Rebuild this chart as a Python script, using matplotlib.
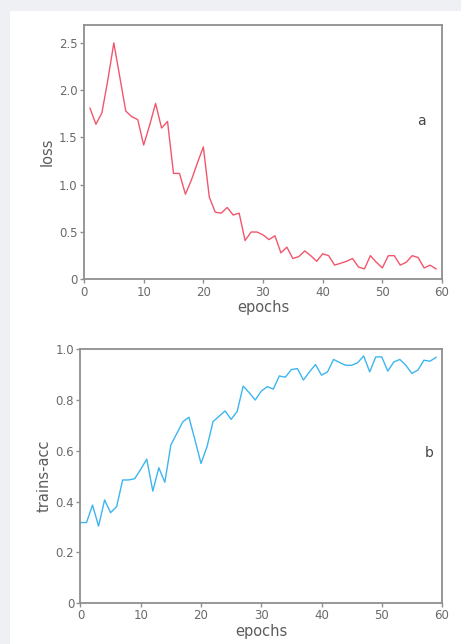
import matplotlib

matplotlib.use("Agg")
import matplotlib.pyplot as plt
from matplotlib.patches import Rectangle

plt.rcParams["font.family"] = ["DejaVu Sans"]

# training curves
loss_epochs = list(range(1, 60))
loss = [
    1.81, 1.64, 1.76, 2.11, 2.50, 2.14, 1.78, 1.72, 1.69, 1.42,
    1.63, 1.86, 1.60, 1.67, 1.12, 1.12, 0.90, 1.05, 1.23, 1.40,
    0.87, 0.71, 0.70, 0.76, 0.68, 0.70, 0.41, 0.50, 0.50, 0.47,
    0.42, 0.46, 0.28, 0.34, 0.22, 0.24, 0.30, 0.25, 0.19, 0.27,
    0.25, 0.15, 0.17, 0.19, 0.22, 0.13, 0.11, 0.25, 0.18, 0.12,
    0.25, 0.25, 0.15, 0.18, 0.25, 0.23, 0.12, 0.15, 0.11,
]

acc_epochs = list(range(0, 60))
acc = [
    0.317, 0.317, 0.386, 0.303, 0.406, 0.356, 0.380, 0.485, 0.485, 0.490,
    0.527, 0.567, 0.441, 0.533, 0.476, 0.623, 0.669, 0.715, 0.732, 0.643,
    0.550, 0.616, 0.715, 0.736, 0.757, 0.724, 0.755, 0.855, 0.829, 0.800,
    0.835, 0.853, 0.843, 0.895, 0.890, 0.920, 0.924, 0.879, 0.911, 0.940,
    0.898, 0.911, 0.960, 0.948, 0.937, 0.937, 0.947, 0.974, 0.911, 0.970,
    0.970, 0.914, 0.950, 0.960, 0.937, 0.905, 0.918, 0.957, 0.953, 0.968,
]

x_ticks = [0, 10, 20, 30, 40, 50, 60]
loss_ticks = [0, 0.5, 1.0, 1.5, 2.0, 2.5]
loss_labels = ["0", "0.5", "1.0", "1.5", "2.0", "2.5"]
acc_ticks = [0, 0.2, 0.4, 0.6, 0.8, 1.0]
acc_labels = ["0", "0.2", "0.4", "0.6", "0.8", "1.0"]

SPINE = "#8f8f8f"
TICK_TEXT = "#6a6a6a"
LABEL_TEXT = "#5c5c5c"


def style_axes(ax):
    for spine in ax.spines.values():
        spine.set_color(SPINE)
        spine.set_linewidth(1.3)
    ax.tick_params(
        direction="out",
        length=3,
        width=1.0,
        color=SPINE,
        labelcolor=TICK_TEXT,
        labelsize=8.5,
        pad=1.5,
    )
    ax.set_xlim(0, 60)
    ax.set_xticks(x_ticks)
    ax.set_xticklabels([str(t) for t in x_ticks])
    ax.set_xlabel("epochs", fontsize=10.5, color=LABEL_TEXT, labelpad=1)


fig = plt.figure(figsize=(4.61, 6.44), dpi=100)
fig.patch.set_facecolor("#eef0f3")
fig.patches.append(
    Rectangle(
        (10 / 461, 0),
        1,
        (644 - 11) / 644,
        transform=fig.transFigure,
        facecolor="white",
        edgecolor="none",
        zorder=-10,
    )
)

ax_loss = fig.add_axes([0.1822, 0.5663, 0.7766, 0.3949])
ax_loss.plot(loss_epochs, loss, color="#f2566c", linewidth=1.0)
style_axes(ax_loss)
ax_loss.set_ylim(0, 2.69)
ax_loss.set_yticks(loss_ticks)
ax_loss.set_yticklabels(loss_labels)
ax_loss.set_ylabel("loss", fontsize=10.5, color=LABEL_TEXT, labelpad=3)
ax_loss.text(56.6, 1.67, "a", fontsize=10, color="#454545", ha="center", va="center")

ax_acc = fig.add_axes([0.1746, 0.0637, 0.7842, 0.3939])
ax_acc.plot(acc_epochs, acc, color="#3db5f0", linewidth=1.0)
style_axes(ax_acc)
ax_acc.set_ylim(0, 1.0)
ax_acc.set_yticks(acc_ticks)
ax_acc.set_yticklabels(acc_labels)
ax_acc.set_ylabel("trains-acc", fontsize=10.5, color=LABEL_TEXT, labelpad=3)
ax_acc.text(57.8, 0.59, "b", fontsize=10, color="#454545", ha="center", va="center")

fig.savefig("out.png", dpi=100, facecolor=fig.get_facecolor())
